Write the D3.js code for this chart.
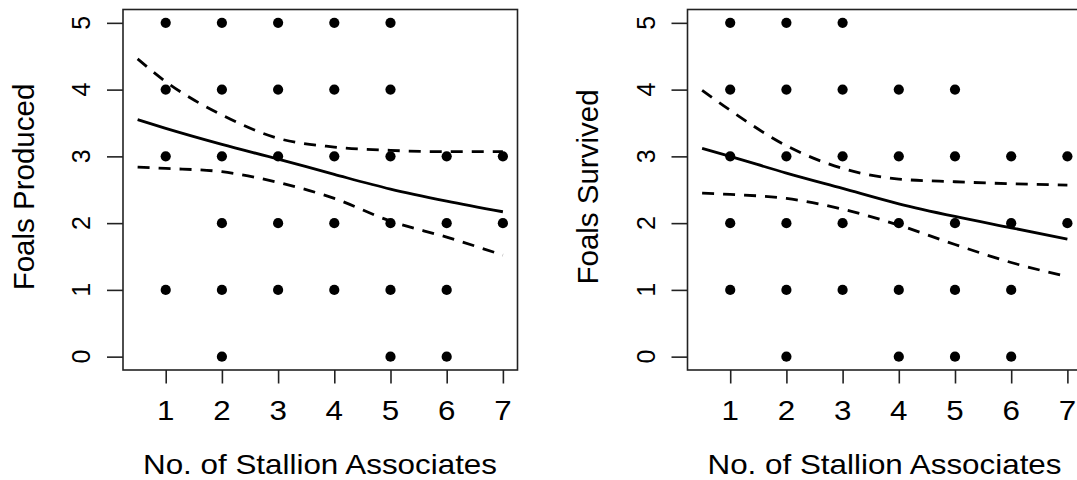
<!DOCTYPE html>
<html><head><meta charset="utf-8">
<script src="https://cdn.jsdelivr.net/npm/d3@7"></script>
<style>body{margin:0;background:#fff}svg{display:block}text{font-family:"Liberation Sans",Arial,sans-serif;fill:#000}</style>
</head><body>
<script>
// ---- data ----
const xTicks = [1,2,3,4,5,6,7];
const yTicks = [0,1,2,3,4,5];
const xLabel = "No. of Stallion Associates";
const yLabels = ["Foals Produced","Foals Survived"];
// observed points: [x, y]
const producedPoints = [[1,5],[1,4],[1,3],[1,1],
 [2,5],[2,4],[2,3],[2,2],[2,1],[2,0],
 [3,5],[3,4],[3,3],[3,2],[3,1],
 [4,5],[4,4],[4,3],[4,2],[4,1],
 [5,5],[5,4],[5,3],[5,2],[5,1],[5,0],
 [6,3],[6,2],[6,1],[6,0],
 [7,3],[7,2]];
const survivedPoints = [[1,5],[1,4],[1,3],[1,2],[1,1],
 [2,5],[2,4],[2,3],[2,2],[2,1],[2,0],
 [3,5],[3,4],[3,3],[3,2],[3,1],
 [4,4],[4,3],[4,2],[4,1],[4,0],
 [5,4],[5,3],[5,2],[5,1],[5,0],
 [6,3],[6,2],[6,1],[6,0],
 [7,3],[7,2]];
// fitted curves
const curveX = [0.5,1,2,3,4,5,6,7];
const producedFit   = [3.55,3.42,3.18,2.96,2.73,2.51,2.33,2.17];
const producedUpper = [4.46,4.12,3.62,3.27,3.14,3.09,3.07,3.07];
const producedLower = [2.84,2.82,2.77,2.61,2.37,2.03,1.79,1.52];
const survivedFit   = [3.12,3.00,2.75,2.52,2.29,2.10,1.93,1.76];
const survivedUpper = [3.99,3.69,3.16,2.82,2.66,2.62,2.59,2.57];
const survivedLower = [2.45,2.43,2.37,2.21,1.97,1.68,1.41,1.20];

const W = 1077, H = 480;
const svg = d3.select("body").append("svg").attr("width", W).attr("height", H);

const panels = [
  {ox: 0, yLabel: yLabels[0], pts: producedPoints, fit: producedFit, up: producedUpper, lo: producedLower},
  {ox: 564.5, yLabel: yLabels[1], pts: survivedPoints, fit: survivedFit, up: survivedUpper, lo: survivedLower}
];

panels.forEach(p => {
  const g = svg.append("g").attr("transform", `translate(${p.ox},0)`);
  const x = d3.scaleLinear().domain([0.24, 7.26]).range([123, 517.5]);
  const y = d3.scaleLinear().domain([-0.2, 5.2]).range([370, 9.5]);

  // box
  g.append("rect").attr("x", x.range()[0]).attr("y", y.range()[1])
    .attr("width", x.range()[1]-x.range()[0]).attr("height", y.range()[0]-y.range()[1])
    .attr("fill", "none").attr("stroke", "#222").attr("stroke-width", 1.6);

  // x axis
  const xa = g.append("g").attr("transform", `translate(0,370)`)
    .call(d3.axisBottom(x).tickValues(xTicks).tickSize(13.5).tickFormat(""));
  xa.select(".domain").remove();
  xa.selectAll("line").attr("stroke", "#222").attr("stroke-width", 1.6);
  g.selectAll(".xt").data(xTicks).enter().append("text")
    .attr("transform", d => `translate(${x(d)},419.5) scale(1.12,1)`)
    .attr("text-anchor", "middle").attr("font-size", 28).text(d => d);

  // y axis
  const ya = g.append("g").attr("transform", `translate(123,0)`)
    .call(d3.axisLeft(y).tickValues(yTicks).tickSize(16).tickFormat(""));
  ya.select(".domain").remove();
  ya.selectAll("line").attr("stroke", "#222").attr("stroke-width", 1.6);
  g.selectAll(".yt").data(yTicks).enter().append("text")
    .attr("transform", d => `translate(90,${y(d)}) rotate(-90)`)
    .attr("text-anchor", "middle").attr("font-size", 25).text(d => d);

  // titles
  g.append("text").attr("x", 320).attr("y", 474).attr("text-anchor", "middle")
    .attr("font-size", 28.5).attr("textLength", 354).attr("lengthAdjust", "spacingAndGlyphs").text(xLabel);
  g.append("text").attr("transform", `translate(33.5,${187}) rotate(-90)`)
    .attr("text-anchor", "middle").attr("font-size", 29.5).text(p.yLabel);

  // points
  g.selectAll("circle").data(p.pts).enter().append("circle")
    .attr("cx", d => x(d[0])).attr("cy", d => y(d[1])).attr("r", 5.1).attr("fill", "#000");

  // curves
  const line = d3.line().x(d => x(d[0])).y(d => y(d[1])).curve(d3.curveMonotoneX);
  const mk = arr => curveX.map((v,i) => [v, arr[i]]);
  g.append("path").attr("d", line(mk(p.fit))).attr("fill","none").attr("stroke","#000").attr("stroke-width",2.8);
  [p.up, p.lo].forEach(a => {
    g.append("path").attr("d", line(mk(a))).attr("fill","none").attr("stroke","#000")
      .attr("stroke-width",2.8).attr("stroke-dasharray","12,9");
  });
});
</script>
</body></html>
